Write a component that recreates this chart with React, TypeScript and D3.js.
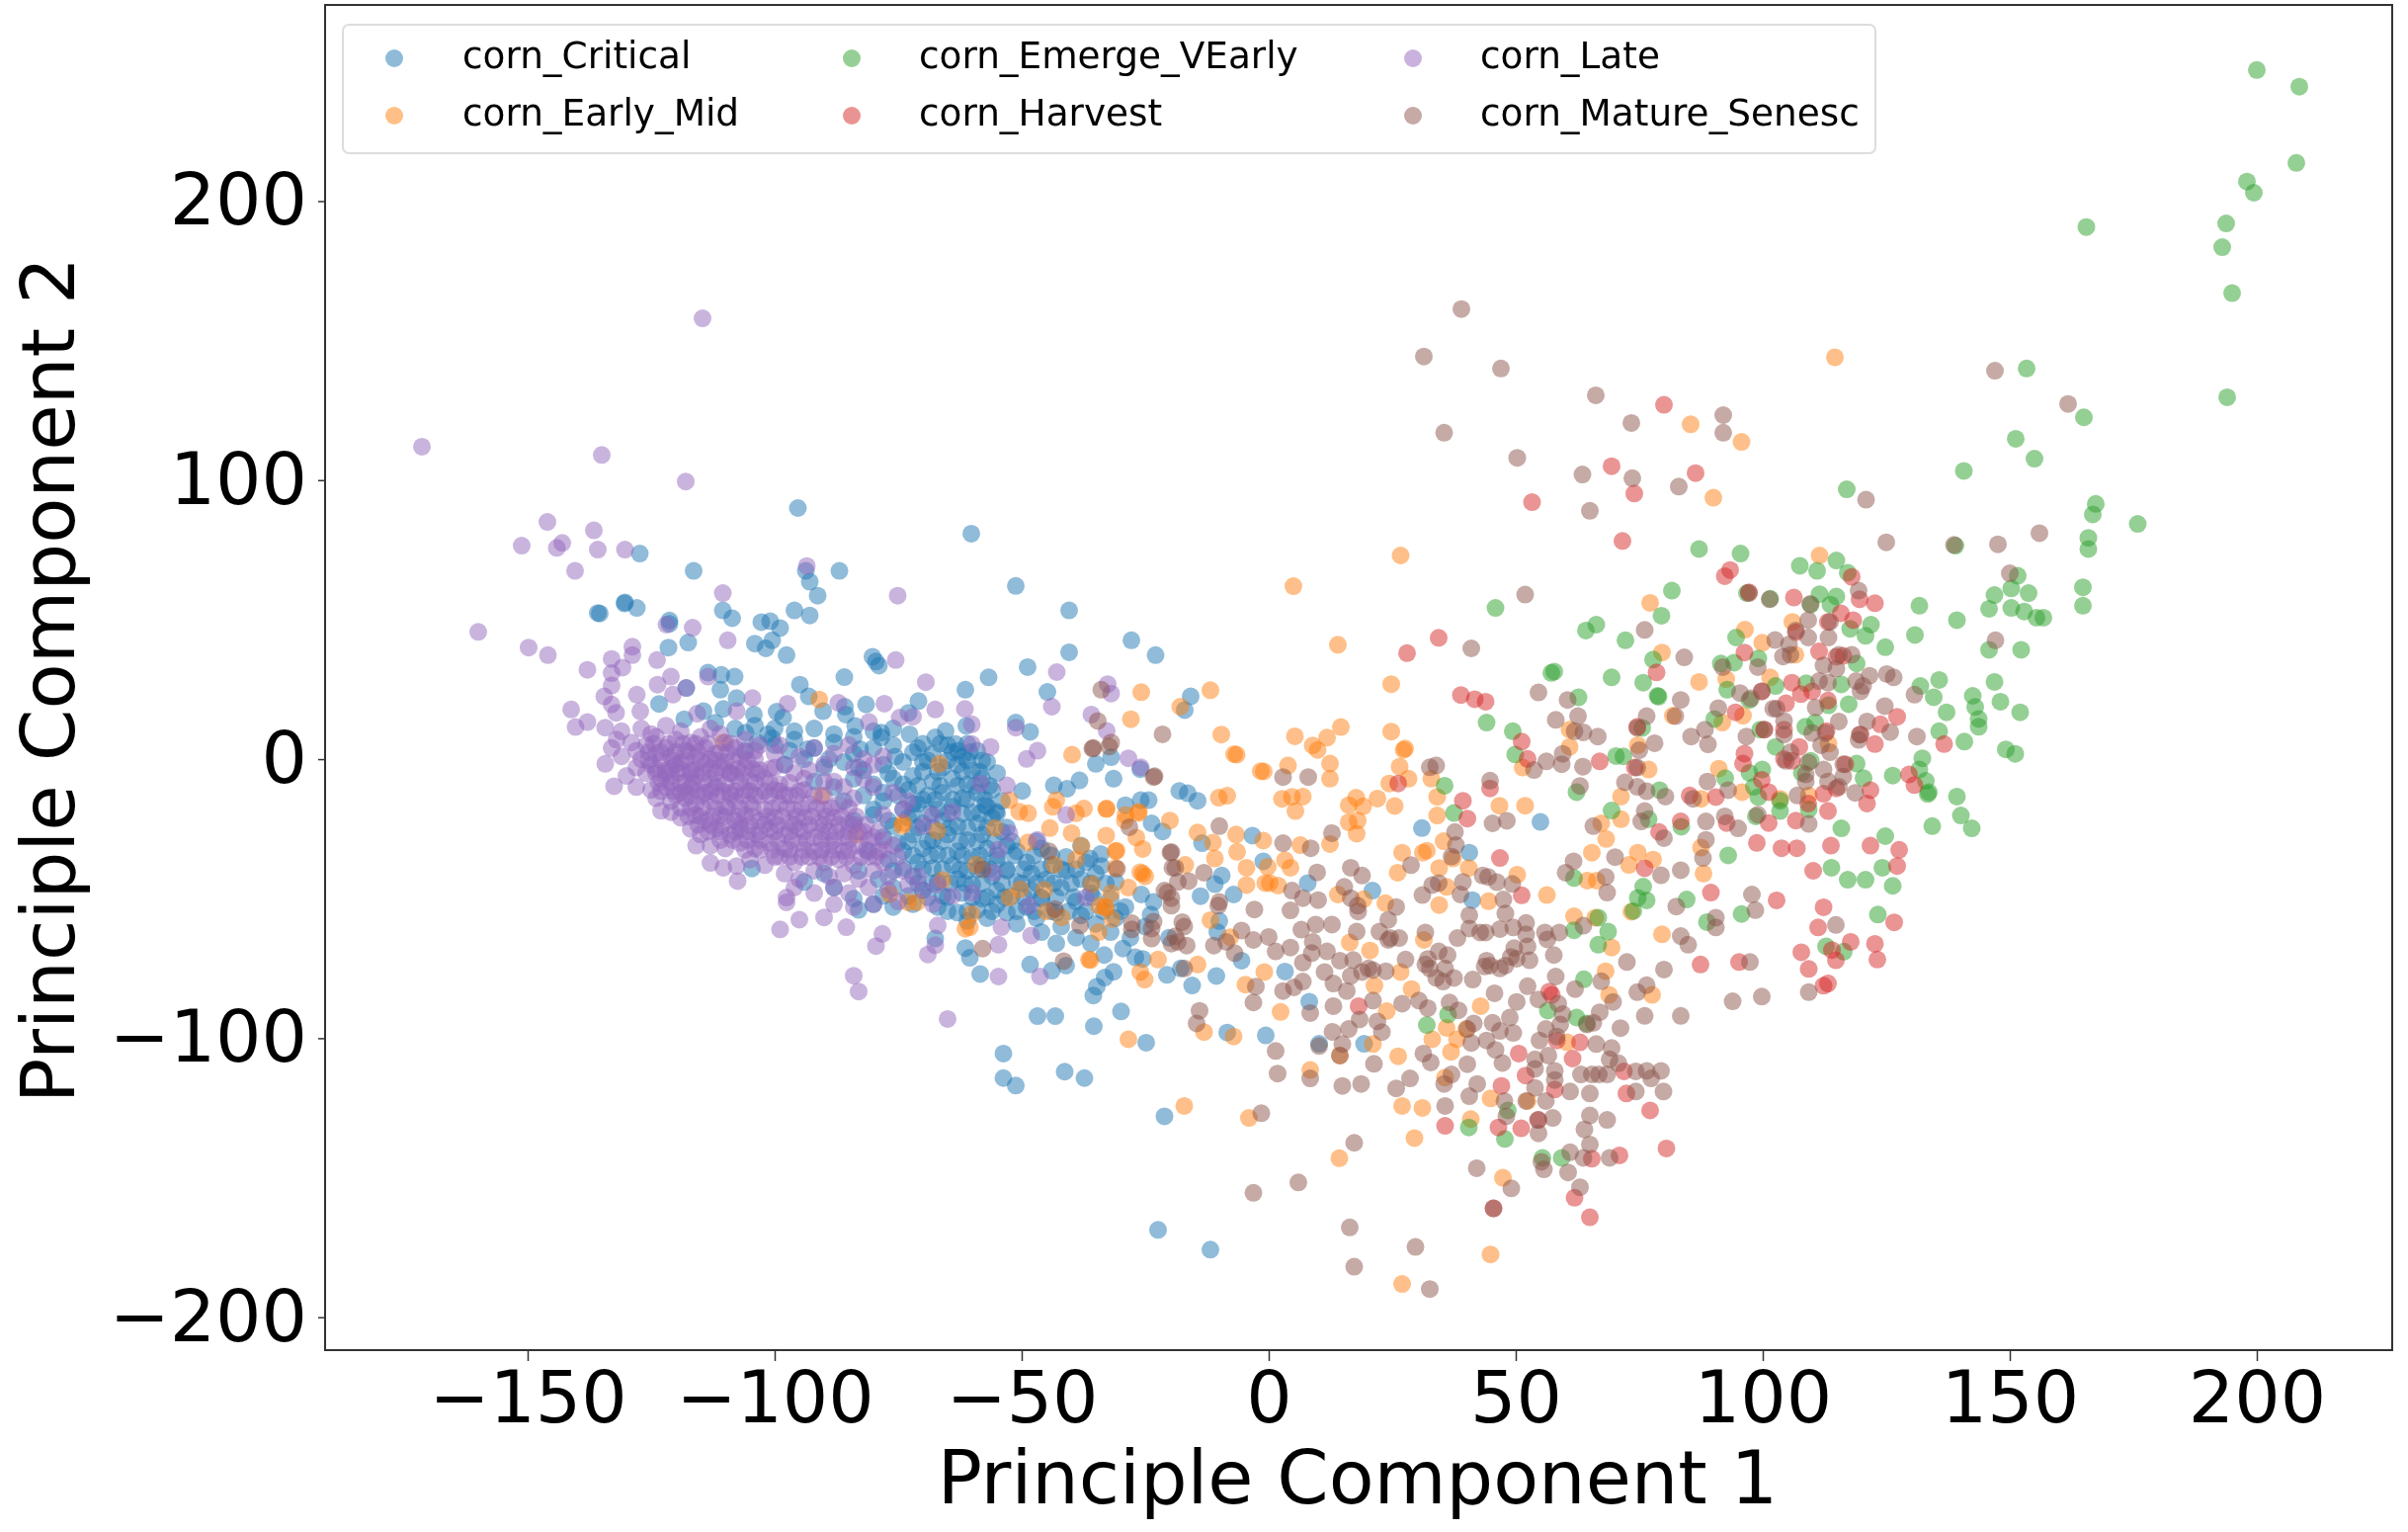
import React, { useEffect, useRef } from 'react';
import * as d3 from 'd3';

type Pt = [number, number];

const xTicks = [-150, -100, -50, 0, 50, 100, 150, 200];
const yTicks = [-200, -100, 0, 100, 200];

const critical: Pt[] = [
  [-127.3,73.7],[-116.4,67.5],[-93.7,67.5],[-86.9,67.5],[-92.9,63.6],[-91.3,58.6],[-51.2,62.1],[-40.4,53.3],[-130.3,56.2],[-127.9,54.2],[-135.8,52.4],[-110.5,53.3],[-108.6,50.5],[-96,53.3],[-92.9,51.5],[-121.3,49.7],[-121.3,48.5],[-102.7,49.1],[-100.9,49.4],[-98.9,47],[-104,41.4],[-100.5,42.6],[-101.8,39.7],[-121.5,40],[-117.5,41.8],[-97.6,37.3],[-27.8,42.6],[-40.4,38.3],[-22.9,37.3],[-80.2,36.7],[-78.9,33.5],[-79.5,35],[-85.9,29.4],[-113.5,31],[-110.8,30.2],[-108.1,29.6],[-111,24.9],[-117.9,25.5],[-56.7,29.3],[-61.4,24.9],[-44.8,24.1],[-94.9,26.7],[-93.1,22.5],[-107.7,21.9],[-123.4,19.8],[-70.9,20.8],[-81.5,19.6],[-85.8,18.8],[-51.2,13.1],[-48.3,9.8],[-99.6,17],[-110.4,18],[-114.4,17.2],[-118.3,14.3],[-104.2,16],[-98.3,14.9],[-90.2,17.2],[-85.6,16],[-83.7,11.9],[-72.9,16.6],[-61.2,11.9],[-78.4,9.5],[-78.4,7.8],[-65.4,10.1],[-67.5,7.8],[-72.7,8.9],[-105.9,9.5],[-101.4,8.9],[-100.5,7.5],[-103.5,6],[-63.4,5.4],[-62.9,3],[-82.7,3.6],[-75.6,0.9],[-93.3,3.6],[-35,-1.7],[-31.9,0.7],[-31.4,-7],[-38.3,-7.6],[-40.8,-10.6],[-43.5,-9.4],[-49.9,-11.4],[-18.1,-11.4],[-29,-16.5],[-25.9,-14.7],[-24.3,-14.7],[-57.4,-16.5],[-55.2,-18.8],[-23.7,-23],[-21.5,-25.9],
  [-83,-54],[-104.6,-39.2],[-67.5,-64.3],[-61.4,-67.7],[-60.5,-71.2],[-58.4,-77],[-48.3,-73.6],[-43.9,-75.8],[-41,-74],[-31.4,-76.2],[-33.2,-78.3],[-34.8,-81.5],[-35.5,-84.7],[-29.9,-90.4],[-46.8,-92.1],[-43.2,-92.1],[-35.4,-95.7],[-53.7,-105.5],[-53.7,-114.3],[-51.2,-117],[-41.3,-112],[-37.3,-114.3],[-21.1,-128],[-22.4,-168.7],[-11.8,-175.8],[-24.8,-101.6],[55,-22.5],[31,-24.7],[19.3,-102],[10.2,-102],[-0.6,-99],[-8.4,-98],[-60.2,80.8],[-95.3,90],[-135.4,52.2],[-130.4,55.8],[-48.8,33],[-15.8,22.5],[-17,17.6],
  [-26,-3.6],[-16.4,-12.2],[-14.4,-14.9],[-3.3,-27.4],[-13.5,-30.1],[-36.2,-35.6],[-33.9,-38.3],[-9.5,-41.7],[-10.9,-44.8],[-1.1,-36.6],[7.9,-44.4],[-7.1,-48.5],[-13.8,-49.1],[-25.8,-48.5],[-23.3,-51.2],[21,-47.1],[40.6,-33.5],[41.2,-50.5],[-10,-58],[-10.4,-62],[-23.9,-55.7],[-20.2,-64],[-29.5,-67.9],[-33.3,-70.2],[-25.5,-71.6],[-5.5,-72.2],[3.3,-76.1],[-10.6,-77.7],[-15.5,-81.1],[-17.8,-75],[-20.6,-77.3],[8.2,-86.9],
  [-71,4],[-68,2],[-65,5],[-62,1],[-59,3],[-70,-1],[-66,-3],[-63,-2],[-60,-4],[-57,-1],[-72,-6],[-68,-8],[-64,-7],[-61,-9],[-58,-7],[-55,-5],[-73,-11],[-69,-13],[-66,-12],[-62,-14],[-59,-12],[-56,-11],[-71,-16],[-67,-18],[-64,-17],[-60,-19],[-57,-17],[-54,-15],[-73,-21],[-70,-23],[-66,-22],[-63,-24],[-59,-23],[-56,-21],[-72,-27],[-68,-29],[-65,-27],[-61,-29],[-58,-27],[-54,-26],[-70,-32],[-67,-34],[-63,-33],[-60,-35],[-57,-32],[-53,-31],[-71,-37],[-68,-39],[-64,-38],[-61,-40],[-58,-38],[-55,-36],[-51,-33],[-72,-42],[-67,-44],[-63,-43],[-60,-45],[-56,-42],[-53,-40],[-49,-37],[-46,-32],[-70,-47],[-66,-49],[-62,-48],[-58,-50],[-55,-47],[-51,-44],[-48,-41],[-44,-38],[-41,-35],[-38,-31],[-67,-53],[-63,-55],[-59,-54],[-55,-52],[-52,-49],[-48,-47],[-45,-43],[-41,-40],[-37,-37],[-34,-34],[-61,-58],[-57,-57],[-53,-55],[-49,-53],[-46,-50],[-42,-46],[-38,-43],[-35,-41],[-31,-44],[-51,-59],[-47,-57],[-43,-55],[-39,-51],[-36,-48],[-32,-50],[-29,-53],[-46,-62],[-42,-60],[-38,-56],[-35,-59],[-31,-57],[-43,-66],[-39,-64],[-36,-66],[-32,-62],[-28,-64],[-25,-60],[-27,-71],
  [-100,5],[-96,7],[-92,4],[-88,6],[-84,2],[-80,4],[-76,5],[-98,-2],[-94,0],[-90,-3],[-86,-1],[-82,-4],[-78,-2],[-74,-1],[-92,-8],[-88,-10],[-84,-7],[-80,-9],[-76,-7],[-86,-15],[-82,-13],[-78,-15],[-75,-13],[-80,-20],[-77,-22],[-74,-18],[-84,-22],[-78,-28],[-75,-30],[-81,-33],[-77,-36],[-74,-39],[-83,-40],[-79,-43],[-76,-46],[-73,-49],[-88,-46],[-84,-50],[-80,-52],[-76,-53],[-72,-52],[-94,-44],[-90,-41],
  [-70,5.5],[-66.5,5.5],[-61,5.5],[-72,2.5],[-64,2.5],[-60.5,2.5],[-69,-0.5],[-65,-0.5],[-61,-0.5],[-58,-0.5],[-70,-4.5],[-67,-4.5],[-62,-4.5],[-58.5,-4.5],[-71,-9.5],[-66.5,-9.5],[-63,-9.5],[-59.5,-9.5],[-56.5,-9.5],[-70,-14.5],[-67.5,-14.5],[-64,-14.5],[-61,-14.5],[-57.5,-14.5],[-72,-19.5],[-68.5,-19.5],[-65,-19.5],[-62,-19.5],[-58.5,-19.5],[-55,-19.5],[-71,-24.5],[-68,-24.5],[-64.5,-24.5],[-61,-24.5],[-57,-24.5],[-53,-24.5],[-73,-29.5],[-69,-29.5],[-66,-29.5],[-62.5,-29.5],[-59,-29.5],[-55.5,-29.5],[-52,-29.5],[-47,-29.5],[-72,-34.5],[-68.5,-34.5],[-65,-34.5],[-62,-34.5],[-58.5,-34.5],[-55,-34.5],[-51.5,-34.5],[-47.5,-34.5],[-44,-34.5],[-70,-39.5],[-66,-39.5],[-62.5,-39.5],[-59,-39.5],[-56.5,-39.5],[-53,-39.5],[-49.5,-39.5],[-46,-39.5],[-42,-39.5],[-39,-39.5],[-71,-44.5],[-68,-44.5],[-64.5,-44.5],[-61.5,-44.5],[-58,-44.5],[-54,-44.5],[-50,-44.5],[-47,-44.5],[-43.5,-44.5],[-40,-44.5],[-36,-44.5],[-33,-44.5],[-69,-49.5],[-65,-49.5],[-60,-49.5],[-57,-49.5],[-53.5,-49.5],[-49.5,-49.5],[-46,-49.5],[-43,-49.5],[-39.5,-49.5],[-35.5,-49.5],[-65,-54.5],[-61,-54.5],[-56,-54.5],[-51,-54.5],[-47.5,-54.5],[-44,-54.5],[-40.5,-54.5],[-37,-54.5],[-33.5,-54.5],[-30,-54.5],
  [-112,13],[-108,11],[-104,12],[-100,11],[-96,10],[-92,11],[-88,9],[-84,8],[-80,10],[-76,11],[-106,3],[-97,3],[-89,0],[-83,-3],[-77,-5],[-74,-9],[-72,-16],[-78,-12],[-80,-18],[-76,-24],[-74,-33],[-76,-40],[-78,-49],
];

const earlyMid: Pt[] = [
  [-7,1.8],[8.9,4.9],[-1.6,-4.3],[3.9,-2.3],[12.4,-1.6],[12.4,-7],[27.6,3.8],[26.5,-2.7],[28.3,-7],[24.4,-8.7],[32.9,-7],[-10.1,-13.8],[-8.4,-13.1],[2.7,-14.2],[4.7,-13.5],[6.9,-13.4],[5.4,-18.6],[17.7,-13.8],[16.2,-16.5],[19.1,-16.9],[22,-14.1],[25.5,-16.8],[34.1,-13.5],[34.1,-20.2],[-32.9,-17.9],[-26.4,-19.3],[-29.1,-22],[-20,-22],[16.2,-22.6],[18,-22],[17.8,-26.7],[12.4,-30.4],[-14.4,-26.3],[-6.6,-27],[-1.1,-29.2],[-11.3,-29.9],[6.4,-30.8],[-32.9,-27.4],[-26.8,-28.1],[-25.5,-32.2],[-30.8,-32.8],[-10.9,-35.6],[-6.4,-33.2],[3.3,-36.2],[4.4,-38.9],[-16.9,-37.9],[-4.5,-38.9],[-0.2,-38.6],[27,-33.5],[31.2,-33.5],[32,-32.8],[35.4,-29.4],[37.3,-35.6],[26.1,-40.7],[34.5,-39],[40.5,-39],[-25.5,-41],[-26,-40.5],[-25,-42],[-0.7,-44.4],[0.2,-44.4],[1.9,-45.3],[-4.5,-45.1],[-28.4,-46],[14,-48.5],[19.2,-50.2],[23.6,-51.6],[36,-45.8],[34.5,-52.3],[-33.1,-53.2],[-31.7,-57.3],[-34.4,-62],[-11.8,-57.7],[-7.8,-63.8],[16.4,-65.7],[20.5,-68.6],[31.4,-64.8],[-22.4,-71.8],[-36.1,-72],[-14.4,-73.6],[-26,-76.3],[-25.1,-79],[-0.9,-76.3],[-4.7,-80.8],[26.7,-76.3],[21.4,-81.1],[28.9,-82.4],[2.4,-90.6],[23.9,-90.3],[42.9,-88.5],[36,-96.3],[33.1,-100.4],[38.1,-100.4],[36.9,-104.9],[40,-96.7],[-13.1,-97.8],[-7.1,-99.4],[-28.4,-100.4],[21.1,-102.1],[26.2,-106.5],[14.4,-106.2],[8.4,-111.4],[35.7,-114.1],[60.4,-101.5],[-17.1,-124.3],[-4,-128.6],[27,-124.3],[31.1,-125],[44.9,-121.6],[52.4,-122.5],[40.9,-129],[29.5,-135.8],[14.3,-143],[47.4,-150],[44.9,-177.5],[27,-188.1],[68.2,-76],[68.9,-84.5],[77.6,-84.5],
  [114.6,144],[85.4,120],[95.7,113.7],[90,93.7],[5,62],[26.7,73],[14,41],[111.5,73],[77.2,56],[96.4,46.4],[99.9,41.7],[79.6,38.2],[106,49.2],[101.5,29.3],[87.1,27.7],[92.6,28.7],[81.8,15.6],[96,15.6],[91.8,13.1],[60.9,10.6],[60.9,4.4],[74.7,5],[76.9,-3.7],[91.1,-3.4],[51.4,-3],[46.7,-16.7],[51.9,-16.7],[71.3,-13.4],[95.8,-11.8],[87.5,-14.2],[106.6,37.4],[71.3,-21.5],[67.3,-23],[68.3,-28.6],[65.4,-33.5],[74.7,-33.5],[77.8,-36],[72.9,-37.9],[88,-41],[50.3,-41.4],[56.3,-48.7],[64.5,-43.5],[66.4,-43.5],[44.5,-50.9],[61.8,-56.3],[66.1,-56.8],[73.4,-54.7],[79.6,-62.8],[69.4,-67.5],[87.5,-31.7],[113.3,5.6],[109.3,-13],[103.5,-14.2],
  [-25.8,24],[-11.8,24.7],[-39.8,1.6],[-9.6,8.8],[-6.5,1.6],[-1,-4.4],[5.3,8.2],[11.8,7.7],[9.9,3.3],[14.6,11.5],[24.8,9.9],[27.3,3.3],[24.8,26.9],[-91,21.4],
  [-66.7,-1.7],[-90.5,-13.2],[-74.2,-23.9],[-74,-22.9],[-67.1,-25.7],[-83.5,-27.1],[-55.4,-24.7],[-52.5,-14.7],[-50.5,-18.8],[-48.7,-19.4],[-43,-14.7],[-43.7,-17.1],[-27.9,14.3],[-17.9,18.8],[-37.4,-17.7],[-39,-19.4],[-32.8,-17.7],[-29,-20],[-26.3,-18.8],[-44.3,-24.7],[-39.9,-26.5],[-48.7,-29.8],[-37.9,-31.2],[-43.4,-37.8],[-39,-36],[-31,-33],[-59.2,-37.8],[-31,-38.9],[-66,-43.3],[-35.8,-44.8],[-50.3,-46.6],[-52.5,-49.6],[-45.4,-46.8],[-31.9,-48],[-60.1,-55.5],[-60.5,-60.2],[-61.4,-60.8],[-73,-51.3],[-71.2,-51.3],[-76.7,-48.4],[-45,-54.6],[-41.9,-56.7],[-34.3,-52.5],[-33,-53.1],[-36.4,-71.8],[-110.4,6],
];

const emergeVEarly: Pt[] = [
  [167.4,91.5],[166.8,87.7],[175.9,84.3],[165.9,79.3],[165.9,75.3],[164.8,61.6],[164.8,55],[139,76.5],[87.1,75.3],[95.5,73.7],[107.5,69.3],[111,67.5],[114.9,71.2],[117.2,66.8],[151.6,65.7],[150.3,61.2],[153.8,59.5],[146.9,58.8],[145.8,53.9],[150.3,54.2],[152.9,52.9],[155.4,50.7],[156.8,50.7],[131.7,55],[139.3,49.8],[130.8,44.5],[145.8,39.2],[152.3,39.2],[124.8,40.1],[81.6,60.4],[79.5,51.4],[96.8,59.5],[101.5,57.5],[111.5,59.1],[114.9,58.3],[113.7,55.4],[109.7,55.4],[45.9,54.2],[66.3,48.2],[64.2,46.1],[72.2,42.6],[94.6,43.6],[121.9,48.2],[117.7,46.7],[120.8,44.2],[57.8,31.4],[57.2,30.9],[69.4,29.3],[75.8,27.4],[77.8,35.7],[78.7,22.7],[78.9,22.4],[62.7,22.2],[94.2,34.6],[91.5,34.3],[99.1,36.1],[119,34.3],[135.7,28.4],[131.9,26.2],[134.6,22.2],[146.9,27.7],[142.5,22.7],[143,18.7],[148.1,20.6],[152.1,16.8],[137.2,16.8],[143.7,14.4],[143.7,11.6],[115.9,26.8],[117.4,19.7],[92.8,24.9],[102.6,26.2],[108.8,27.2],[113.3,19.3],[90.2,14.4],[97.3,21.2],[44.1,13.1],[49.4,10],[75.6,11.2],[99.5,10.6],[108.6,11.6],[110.6,13.1],[102.6,4.4],[135.7,10],[140.8,6.3],[149.2,3.5],[151.1,1.9],[49.9,1.7],[71.8,1],[132.3,0.3],[131.7,-3.7],[133,-7.8],[133.6,-11.8],[133.4,-12.5],[139.3,-13.4],[126.3,-5.9],[120.4,-6.8],[119,-1.6],[109.7,-0.6],[107.9,-4.9],[99.9,-3.7],[97.3,-4.9],[98.2,-9.9],[92.4,-6.8],[79.1,-11.1],[62.3,-11.8],[99.1,-13.6],[103.5,-14.9],[103.5,-18.6],[109.3,-18],[98.6,-20.5],[69.4,-18.4],[76.9,-21.5],[83.5,-24.2],[115.9,-24.8],[134.3,-24],[140.1,-20.2],[142.3,-24.8],[124.8,-27.6],[93,-34.5],[113.9,-38.9],[124.2,-38.9],[117.2,-43.2],[120.8,-43.2],[126.3,-45.4],[61.8,-42.6],[75.8,-45.7],[74.7,-49.7],[76.5,-50.6],[84.6,-50.3],[73.8,-54.4],[66.7,-56.8],[68.7,-61.8],[61.8,-61.3],[66.7,-66.5],[88.7,-58.4],[95.7,-55.5],[123.3,-55.7],[112.8,-67.1],[116.4,-69],[63.8,-78.9],[56.5,-90.1],[62.3,-92.6],
  [35.6,-9.5],[37.5,-19.3],[70.3,1.1],[32,-95.3],[36.3,-91.5],[64.4,-94.7],[48.4,-125.9],[40.5,-132],[47.8,-136.1],[55.4,-142.9],[59.3,-142.9],
  [200,247],[208.6,241],[193.8,192],[193,183.5],[195,167],[194,129.7],[198,207],[199.4,203],[208,213.7],[165.5,190.7],[153.4,140],[165,122.5],[151.2,114.8],[155,107.7],[140.7,103.3],[117,96.7],
];

const harvest: Pt[] = [
  [53.3,92.1],[74,95.2],[71.6,78.2],[93.4,67.8],[92.3,65.6],[97.2,59.8],[106.3,57.9],[118,65.3],[119.6,57.3],[122.7,55.9],[115.8,52.3],[118.3,49.8],[113.2,49.2],[106.7,45.5],[96.3,38.2],[111.4,38.6],[114.9,36.7],[116.3,37],[78.5,31.1],[43.9,20.6],[105.9,27.4],[99.8,24.3],[107.7,23.3],[110,24.3],[113.2,21],[104.7,20],[94.5,16.8],[127.2,15.2],[123.8,12.5],[119.8,8.8],[122.7,5.4],[112.9,10],[100.3,10.6],[104.3,10.6],[74.6,11.6],[51.2,6.3],[107.4,4.4],[136.7,5.4],[52.4,0.1],[67,-0.8],[74.1,-3],[96.3,2],[96,-1.6],[104.3,0],[105.9,-0.6],[116.7,-1.8],[129.6,-5.5],[130.7,-9.3],[44.8,-10.5],[99.8,-7.4],[101.2,-11.8],[121.8,-11.1],[121.1,-15.9],[112.3,-12.4],[114.9,-10.5],[85.2,-13],[90.5,-13.6],[109.2,-15.9],[113.2,-18.6],[106.7,-22],[101.2,-22.9],[92.7,-22.9],[83.4,-22.3],[79,-26.1],[98.8,-30],[103.8,-31.9],[106.9,-31.9],[113.8,-31],[121.8,-31],[127.6,-32.5],[127.2,-38.3],[110.2,-40],[89.5,-47.8],[102.8,-50.6],[76.1,-39.1],[51.2,-48.8],[46.8,-35.4],[112.3,-53.1],[126.6,-58.5],[111.2,-60.3],[117.8,-65.5],[122.7,-66.2],[107.8,-69.2],[114,-68.4],[114.8,-72.1],[123.2,-71.8],[87.4,-73.6],[95.2,-72.7],[109.3,-75.2],[113.2,-80.4],[112.3,-81.2],[56.8,-83.3],[57.3,-84.5],
  [26.2,-8.7],[39.3,-14.9],[40.2,-21.3],[18.2,-88.5],[58.3,-100.8],[50.6,-105.5],[63,-101.5],[61.5,-107.3],[52,-113.4],[71.9,-111.9],[47.1,-117.1],[57.9,-118.4],[72.4,-119.8],[77.2,-125.9],[35.7,-131.4],[46.5,-132],[51.1,-132.3],[54.6,-129.3],[65.4,-143.2],[71,-142],[80.5,-139.5],[45.5,-161],[61.9,-157.2],[65,-164.2],
  [80,127],[69.4,105],[86.4,102.5],[34.4,43.5],[28,38],[38.9,23],[41.7,21.5],
];

const late: Pt[] = [
  [-171.4,112],[-160,45.6],[-146,85],[-143,77.5],[-136.6,82],[-135,109],[-118,99.5],[-114.6,158],
  [-151.2,76.5],[-144.1,75.7],[-135.8,75.1],[-130.3,75.1],[-140.4,67.5],[-93.5,69.2],[-110.5,59.5],[-75.1,58.6],[-121.9,48.2],[-116.6,47.1],[-109.5,42.6],[-149.8,40],[-145.9,37.3],[-128.8,40.3],[-128.8,37.3],[-133,35.9],[-123.8,35.5],[-137.9,32],[-130.8,32.8],[-133,30.8],[-75.5,35.5],[-121,29.6],[-123.7,26.7],[-133,26.4],[-117.9,25.5],[-113.5,29.6],[-120.6,23.1],[-134.5,22.5],[-127.9,23.1],[-69.4,27.6],[-42.9,31.2],[-32.6,26.9],[-31.9,23.5],[-141.2,17.8],[-133,19.6],[-43.9,18.8],[-67.5,17.8],[-61.5,18],[-104.5,21.9],[-97.4,19.9],[-77.8,19.9],[-87.1,20.2],[-140.3,11.5],[-137.9,13.3],[-134.3,11.3],[-132.1,16.6],[-127.2,17.2],[-115.7,16.3],[-107.7,17.2],[-80.9,13.3],[-74.7,14.9],[-72,15.2],[-60.1,12.5],[-51.2,11.3],[-35.9,16],[-32.8,10.1],[-60.1,5.4],[-56.3,4.4],[-46.8,3],[-49,0.1],[-28.4,0.3],[-25.9,-2.9],[-134.3,-1.7],[-132.5,-9.7],[-123,-18.5],[-115.9,-31],[-113,-37.2],[-110.4,-38.9],[-107.5,-43.7],[-107.7,-38.3],[-98.9,-61],[-95,-57.5],[-90,-56.7],[-85.5,-60.2],[-97.6,-51.3],[-97.6,-49.6],[-78.2,-62.6],[-79.5,-67],[-69,-70],[-84,-77.6],[-83,-83.3],[-65,-93.1],[-54.7,-77.9],[-46.3,-77.9],[-54.7,-66.5],[-67.5,-66.7],[-67,-59.6],[-54.1,-60.2],[-48.1,-63.2],[-37,-49.6],[-48.5,-52.5],[-53,-9.4],[-58.3,-8.8],[-41,-20],[-54.7,-32.4],[-52.5,-26.5],[-46.8,-28.9],[-55.6,-40.7],
  [-131,10],[-127,11],[-125,9],[-122,12],[-119,10],[-113,11],[-111,9],[-132,7],[-129,6],[-124,8],[-120,7],[-117,6],[-115,8],[-110,6],[-106,7],[-103,5],[-133,4],[-128,3],[-126,5],[-122,4],[-118,3],[-114,4],[-112,2],[-108,4],[-104,3],[-99,5],[-92,4],[-85,5],[-131,1],[-127,0],[-124,2],[-121,1],[-119,-1],[-116,1],[-113,0],[-110,-1],[-107,1],[-104,0],[-100,2],[-95,1],[-88,2],[-82,0],[-78,1],[-128,-3],[-125,-2],[-122,-4],[-120,-2],[-117,-4],[-114,-2],[-111,-3],[-109,-5],[-106,-3],[-103,-4],[-98,-2],[-93,-4],[-90,-2],[-84,-3],[-80,-2],
  [-130,-6],[-126,-5],[-123,-7],[-121,-6],[-118,-8],[-116,-6],[-113,-7],[-110,-9],[-108,-6],[-105,-8],[-102,-7],[-99,-9],[-94,-7],[-88,-8],[-82,-7],[-128,-10],[-125,-11],[-122,-10],[-119,-12],[-117,-10],[-114,-12],[-112,-10],[-109,-12],[-106,-11],[-103,-13],[-100,-11],[-97,-13],[-94,-11],[-90,-13],[-124,-14],[-121,-15],[-118,-14],[-116,-16],[-113,-15],[-110,-17],[-108,-15],[-105,-16],[-102,-18],[-99,-16],[-96,-18],[-93,-16],[-90,-18],[-87,-16],[-121,-19],[-119,-21],[-116,-20],[-114,-22],[-111,-20],[-108,-22],[-106,-20],[-103,-22],[-100,-21],[-97,-23],[-94,-21],[-91,-23],[-88,-21],[-85,-23],[-117,-25],[-115,-27],[-112,-25],[-109,-27],[-107,-25],[-104,-27],[-101,-25],[-98,-27],[-95,-25],[-92,-28],[-89,-26],[-86,-28],[-83,-26],[-80,-28],[-113,-31],[-110,-32],[-107,-30],[-104,-32],[-101,-30],[-98,-32],[-95,-30],[-92,-33],[-89,-31],[-86,-33],[-83,-31],[-79,-33],[-76,-31],[-105,-36],[-102,-38],[-99,-35],[-96,-37],[-93,-35],[-90,-37],[-87,-36],[-84,-38],[-81,-35],[-78,-37],[-75,-35],[-98,-41],[-95,-43],[-92,-40],[-89,-42],[-86,-41],[-83,-43],[-80,-40],[-77,-42],[-74,-40],[-71,-42],[-96,-46],[-92,-48],[-88,-46],[-85,-48],[-81,-46],[-77,-47],[-73,-45],[-70,-47],[-67,-45],[-88,-52],[-84,-53],[-80,-52],[-75,-51],[-68,-52],[-64,-49],[-60,-48],
  [-100,-3],[-96,-5],[-90,-8],[-86,-10],[-80,-10],[-76,-12],[-74,-18],[-73,-15],[-84,-14],[-78,-20],[-70,-24],[-68,-20],[-64,-19],
  [-124.5,5.5],[-121.5,5.5],[-118.5,5.5],[-116,5.5],[-113.5,5.5],[-109,5.5],[-125.5,2.5],[-123,2.5],[-120,2.5],[-117.5,2.5],[-115.5,2.5],[-111,2.5],[-109.5,2.5],[-106,2.5],[-125.5,-0.5],[-123,-0.5],[-120.5,-0.5],[-118,-0.5],[-115,-0.5],[-112,-0.5],[-108.5,-0.5],[-105.5,-0.5],[-124,-3.5],[-121,-3.5],[-119,-3.5],[-116,-3.5],[-113,-3.5],[-110,-3.5],[-107.5,-3.5],[-104.5,-3.5],[-101,-3.5],[-124,-5],[-122,-5],[-119.5,-5],[-117,-5],[-114.5,-5],[-112,-5],[-109,-5],[-106.5,-5],[-103.5,-5],[-123.5,-8.5],[-121,-8.5],[-119,-8.5],[-116.5,-8.5],[-114.5,-8.5],[-111.5,-8.5],[-107,-8.5],[-104,-8.5],[-101,-8.5],[-97,-8.5],[-123,-11.5],[-120.5,-11.5],[-118,-11.5],[-115.5,-11.5],[-113,-11.5],[-110.5,-11.5],[-108,-11.5],[-105,-11.5],[-102,-11.5],[-99,-11.5],[-95,-11.5],[-120,-13],[-117,-13],[-114.5,-13],[-111.5,-13],[-109,-13],[-106.5,-13],[-104,-13],[-101,-13],[-98,-13],[-95.5,-13],[-92,-13],[-119,-17.5],[-117,-17.5],[-114.5,-17.5],[-112,-17.5],[-109.5,-17.5],[-107,-17.5],[-104.5,-17.5],[-100.5,-17.5],[-97.5,-17.5],[-94.5,-17.5],[-91.5,-17.5],[-88.5,-17.5],[-85,-17.5],[-117.5,-20.5],[-115,-20.5],[-112.5,-20.5],[-110,-20.5],[-107.5,-20.5],[-104.5,-20.5],[-101.5,-20.5],[-98.5,-20.5],[-95.5,-20.5],[-92.5,-20.5],[-89.5,-20.5],[-86.5,-20.5],[-83.5,-20.5],[-115.5,-23.5],[-113,-23.5],[-110.5,-23.5],[-107,-23.5],[-105,-23.5],[-102,-23.5],[-99.5,-23.5],[-96,-23.5],[-93,-23.5],[-90,-23.5],[-87,-23.5],[-84,-23.5],[-81.5,-23.5],[-113.5,-26],[-111,-26],[-108,-26],[-105.5,-26],[-103,-26],[-100,-26],[-97,-26],[-94,-26],[-90.5,-26],[-87.5,-26],[-85,-26],[-82,-26],[-79,-26],[-111,-29],[-108.5,-29],[-105.5,-29],[-103,-29],[-99.5,-29],[-96.5,-29],[-93.5,-29],[-90.5,-29],[-88,-29],[-85,-29],[-81,-29],[-78,-29],[-106,-32.5],[-103,-32.5],[-100.5,-32.5],[-97,-32.5],[-94,-32.5],[-90.5,-32.5],[-88,-32.5],[-85,-32.5],[-81.5,-32.5],[-78,-32.5],[-100,-35],[-97,-35],[-94.5,-35],[-91,-35],[-88.5,-35],[-85.5,-35],[-82.5,-35],[-79.5,-35],
];

const matureSenesc: Pt[] = [
  [39,161.3],[31.4,144.3],[47,140],[35.5,117],[50.3,108],[66.2,130.4],[73.4,120.5],[92,123.3],[92,117],[63.5,102],[65,89],[73.6,100.7],[83,97.7],[120.9,93],[125,77.7],[147,139.2],[161.8,127.3],[147.6,77],[156,81],[51.9,59],[41,39.7],
  [138.7,76.8],[150,66.6],[76.1,46.3],[84.1,36.5],[147.1,42.6],[97.2,59.5],[101.4,57.3],[109.6,55.6],[109.2,49.8],[113.6,49.2],[106.7,46.1],[102.5,42.7],[109.2,43.6],[113.3,43.6],[105.3,41.1],[119.4,60.4],[104.1,36.8],[105.6,37.4],[112.3,33.6],[115.4,37.4],[118,37.4],[114.9,32.4],[91.9,33],[99,33],[118.9,28],[121.6,29.9],[125.1,30.5],[126.5,29.3],[120.3,26.2],[119.8,24.3],[113.2,27.4],[111.4,28],[130.7,23.1],[124.7,19],[95.4,23.7],[97.6,21.8],[99.8,24.3],[91,18.3],[102.1,18.1],[110.7,18.5],[60.5,21.2],[83.4,21.2],[54.6,23.9],[58.1,14.1],[62.6,15.4],[76.5,15.4],[82.3,15.4],[61.9,10],[63.7,9.6],[66.6,8.1],[74.6,11.2],[88.3,10.6],[85.5,8.1],[88.9,5.3],[96.7,8.1],[104.3,13.7],[104.3,8.8],[100.3,10.6],[115.4,13.5],[121.1,13.5],[110,9.4],[112.7,9.4],[119.6,8.8],[119.4,6.9],[125.8,9.7],[131.2,8.1],[102.8,18.1],[78.1,5.7],[111.8,5],[113.6,2.5],[105.6,2.5],[104.7,-0.6],[75,3.2],[59.5,1.9],[59.3,-1.8],[56.2,-0.8],[63.6,-2.7],[53.7,-3.9],[74.6,-3],[109.2,-1.2],[112.3,-3.7],[116.3,-1.8],[108.7,-5.5],[108.7,-8],[113.2,-8],[116.3,-6.2],[115.4,-9.9],[44.8,-7.7],[63,-9.6],[72.1,-8.3],[74.6,-9.9],[76.5,-11.5],[80.3,-13.4],[88.8,-8],[85.9,-14.2],[93,-11.1],[107,-13],[118.7,-12.1],[99,-19.9],[76.1,-18.6],[75.4,-22.3],[92.3,-20.5],[95,-24.8],[88.5,-22.3],[109.3,-23.2],[65.7,-24],[80,-28.3],[45.3,-23],[48.2,-22.1],[88.5,-28.9],[87.9,-35.4],[70.1,-35.1],[61.7,-36.6],[60.1,-40.7],[68.2,-42.2],[68.5,-47.8],[83.4,-39.8],[79.4,-41.6],[97.8,-48.5],[82.5,-52.8],[98.5,-54.1],[90.5,-56.8],[90.5,-60.3],[114.8,-59.4],[83.4,-63.4],[84.9,-66.5],[97.4,-72.7],[72.5,-72.7],[80,-75.4],[58.1,-77.9],[67.3,-79.6],[76.5,-81],[74.6,-83.5],[99.8,-85.1],[93.9,-86.8],[109.3,-83.5],[76.1,-92],[83.4,-92],[62,-82.4],[69.7,-87],[71.2,-96.4],[67,-90.7],[65.7,-94.5],[52.4,-81.4],[50.2,-87],[45.7,-83.9],[45.3,-94.5],[48.8,-92.6],[58.6,-87.6],[59.5,-91.4],[59,-95.1],[54.6,-86.1],[64.4,-95.1],[43.9,-62.1],[46.8,-60.9],[49.5,-60.3],[52.1,-62.8],[55.9,-62.1],[56.4,-64.6],[58.8,-62.1],[63.7,-59.7],[52.4,-67.1],[49.7,-67.7],[57.7,-70.2],[52.8,-72.1],[50.2,-71.5],[44.8,-74],[47.9,-74],[46.2,-44.1],[49.3,-44.7],[44.4,-42.2],[47.5,-50.3],[47.9,-55.3],
  [-35.7,3.8],[-32.3,4.5],[-23.3,-6.4],[2.9,-6.4],[8,-6.4],[32.6,-2.9],[33.9,-2.3],[-10,-24],[12.8,-26.5],[37.7,-26.1],[2.9,-30.1],[8.5,-31.9],[37.9,-30.8],[37,-34.9],[-19.9,-33.5],[-19.5,-38.9],[-13.1,-40.7],[-16.2,-43.7],[-18.4,-44],[28.8,-38],[16.6,-38.9],[18.9,-41.7],[9.8,-40.6],[43.3,-41.7],[39.3,-44],[34.4,-44.4],[33.1,-45.1],[31.1,-48.7],[38.8,-48.5],[15.3,-45.8],[4.7,-47.1],[6.9,-49.8],[10,-50.5],[4.4,-54.2],[16.6,-49.8],[18,-52.5],[18.1,-54.6],[25.8,-53],[24.2,-57.6],[-21.1,-47.1],[-19.7,-49.8],[-10,-51.2],[-10.2,-52.5],[-2.9,-53.9],[40.6,-55.9],[40.6,-60.7],[42.8,-62.1],[52.1,-58.7],[-27.7,-61],[-23.7,-60.7],[-5.5,-61.4],[6.6,-61.1],[9.5,-59.3],[12.8,-59.3],[17.8,-61.8],[22.4,-61.8],[31.7,-62.1],[38.2,-64.1],[-17.1,-60],[-16.6,-66.8],[-18.4,-65.5],[-19.7,-66.1],[-3.1,-64.8],[0,-63.7],[-11.1,-66.8],[-8.6,-65.5],[-6.9,-69.5],[4.4,-67.5],[1.4,-68.9],[8.9,-65.5],[8.7,-69.5],[6.9,-72.9],[11.8,-68.9],[14.4,-72.2],[17.1,-72],[11.3,-76.3],[13.1,-80.4],[15.8,-83.1],[16.6,-77.7],[18.9,-76.3],[21.1,-75.6],[23.7,-76],[20.2,-75],[24.6,-64.1],[24.2,-64.8],[26.4,-64.1],[27.7,-71.8],[32.2,-71.6],[34.4,-68.9],[36.2,-70.2],[32.6,-75],[33.9,-78.4],[35.7,-75],[31.7,-73.6],[35.3,-79.7],[37.5,-78.4],[41.3,-79],[43.7,-74.3],[46.8,-75],[49,-70.9],[44.1,-72.2],[2.9,-83.1],[6.9,-79.7],[5.1,-81.8],[-3.1,-87.2],[-2.6,-81.5],[-14,-90.2],[-14.6,-94.7],[8.4,-91],[13.1,-88.5],[21.1,-86.5],[27,-87.6],[32.2,-89.2],[30.4,-86.5],[36.6,-87.2],[38.4,-90],[18.4,-93.3],[22,-94],[16.2,-96.7],[12.9,-97.7],[22.9,-97.8],[14.9,-102.1],[41.5,-94.7],[40.2,-96.7],[41,-101.7],[49.5,-98.1],[44.1,-100.8],[46.8,-97.4],[45.9,-104.2],[47.3,-108.9],[54.8,-100.8],[56.1,-96.7],[58.3,-99.4],[56.6,-106.2],[53.9,-107.6],[53.9,-111],[66.3,-102.1],[69.4,-103.5],[69,-107.6],[70.8,-109],[63.2,-113],[65.4,-113],[66.8,-113],[68.5,-113],[57.9,-111.7],[57.9,-115],[53.9,-117.8],[56.1,-122.5],[52.1,-122.5],[61,-119.1],[65,-119.8],[74.3,-119.1],[74.3,-111.9],[76.5,-111.7],[77.4,-114.4],[79.4,-111.7],[79.9,-119.1],[65,-127.7],[68.5,-129.3],[57.5,-128.6],[54.5,-129.3],[63.9,-132.7],[54.6,-134.1],[47.7,-122.5],[48.1,-128],[65,-138.1],[61,-140.9],[63.7,-142.9],[69,-142.9],[55.2,-144.3],[55.7,-147],[60.6,-148.1],[63,-153.4],[42.1,-146.6],[49.1,-153.8],[45.5,-161],[37,-113],[35.5,-116.4],[28.6,-114.4],[25.8,-118],[40.2,-109.3],[42.2,-116.4],[40.6,-120.8],[35.7,-124.3],[31.3,-105.5],[32.8,-108.7],[21.3,-109.2],[18.7,-116.4],[14.9,-117.1],[10.2,-102.8],[14.4,-106.2],[1.4,-104.6],[1.8,-112.7],[8.4,-114.4],[-1.5,-126.9],[17.3,-137.5],[-3.1,-155.4],[6,-151.7],[16.4,-167.8],[29.7,-174.8],[17.3,-181.9],[32.6,-189.9],
  [-33.9,24.9],[-21.5,8.9],[-34.6,13.7],[-35.5,4],[-31.9,6],[-23.1,-6.1],[-28.2,-24.4],[-19.7,-33.3],[-18.9,-38.9],[-44.5,-33],[-57.9,-39.5],[-30.7,-39.3],[-43.3,-53.7],[-20.5,-47.8],[-19.7,-52.5],[-27.7,-58.8],[-23.3,-58.2],[-23.7,-64.3],[-38.2,-59.6],[-57.9,-67.9],[-41.5,-72.4],[-18.9,-63.5],[-17.5,-58.4],[-17.1,-75],
];

const seriesNames = ['corn_Critical', 'corn_Early_Mid', 'corn_Emerge_VEarly', 'corn_Harvest', 'corn_Late', 'corn_Mature_Senesc'];
const seriesColors = ['#1f77b4', '#ff7f0e', '#2ca02c', '#d62728', '#9467bd', '#8c564b'];
const seriesPoints = [critical, earlyMid, emergeVEarly, harvest, late, matureSenesc];

const App: React.FC = () => {
  const svgRef = useRef<SVGSVGElement>(null);

  useEffect(() => {
    if (!svgRef.current) return;
    const root = d3.select(svgRef.current);
    root.selectAll('*').remove();

    const width = 2437;
    const height = 1550;
    const font = '"DejaVu Sans", sans-serif';
    const plot = { left: 329, right: 2421, top: 5, bottom: 1366 };

    root.attr('width', width).attr('height', height);

    // The reference is a resampled raster, so everything is slightly soft
    root
      .append('defs')
      .append('filter')
      .attr('id', 'soft')
      .attr('filterUnits', 'userSpaceOnUse')
      .attr('x', 0)
      .attr('y', 0)
      .attr('width', width)
      .attr('height', height)
      .append('feGaussianBlur')
      .attr('stdDeviation', 0.7);

    const svg = root.append('g').attr('filter', 'url(#soft)');

    // Ticks sit at 1284 + 5x and 768 - 2.823y in the picture
    const x = d3.scaleLinear().domain([-191, 227.4]).range([plot.left, plot.right]);
    const y = d3.scaleLinear().domain([-211.8, 270.3]).range([plot.bottom, plot.top]);

    // Points, one series after the other
    seriesPoints.forEach((points, i) => {
      svg
        .append('g')
        .selectAll('circle')
        .data(points)
        .enter()
        .append('circle')
        .attr('cx', d => x(d[0]))
        .attr('cy', d => y(d[1]))
        .attr('r', 9)
        .attr('fill', seriesColors[i])
        .attr('fill-opacity', 0.5);
    });

    // Frame
    svg
      .append('rect')
      .attr('x', plot.left)
      .attr('y', plot.top)
      .attr('width', plot.right - plot.left)
      .attr('height', plot.bottom - plot.top)
      .attr('fill', 'none')
      .attr('stroke', '#333')
      .attr('stroke-width', 2);

    // Axes
    const xAxis = svg
      .append('g')
      .attr('transform', `translate(0,${plot.bottom})`)
      .call(d3.axisBottom(x).tickValues(xTicks).tickSize(11).tickPadding(10));
    const yAxis = svg
      .append('g')
      .attr('transform', `translate(${plot.left},0)`)
      .call(d3.axisLeft(y).tickValues(yTicks).tickSize(7).tickPadding(11));

    [xAxis, yAxis].forEach(axis => {
      axis.select('.domain').remove();
      axis.selectAll('line').attr('stroke', '#333').attr('stroke-width', 1.5);
      axis.selectAll('text').attr('fill', '#000').style('font-family', font).style('font-size', '73px');
    });

    // Axis labels
    svg
      .append('text')
      .attr('x', 1374)
      .attr('y', 1521)
      .attr('text-anchor', 'middle')
      .style('font-family', font)
      .style('font-size', '75px')
      .text('Principle Component 1');
    svg
      .append('text')
      .attr('transform', 'translate(75,688) rotate(-90)')
      .attr('text-anchor', 'middle')
      .style('font-family', font)
      .style('font-size', '75.5px')
      .text('Principle Component 2');

    // Legend
    svg
      .append('rect')
      .attr('x', 347)
      .attr('y', 25)
      .attr('width', 1551)
      .attr('height', 130)
      .attr('rx', 6)
      .attr('fill', '#fff')
      .attr('fill-opacity', 0.8)
      .attr('stroke', '#ddd')
      .attr('stroke-width', 2);

    const legendCols = [[399, 468], [862, 930], [1430, 1498]];
    const legendRows = [59, 117];
    seriesNames.forEach((name, i) => {
      const col = legendCols[Math.floor(i / 2)];
      const row = legendRows[i % 2];
      svg
        .append('circle')
        .attr('cx', col[0])
        .attr('cy', row)
        .attr('r', 9)
        .attr('fill', seriesColors[i])
        .attr('fill-opacity', 0.5);
      svg
        .append('text')
        .attr('x', col[1])
        .attr('y', row + 10)
        .style('font-family', font)
        .style('font-size', '37.4px')
        .text(name);
    });
  }, []);

  return <svg ref={svgRef} style={{ position: 'absolute', left: 0, top: 0, background: '#fff' }} />;
};

export default App;
